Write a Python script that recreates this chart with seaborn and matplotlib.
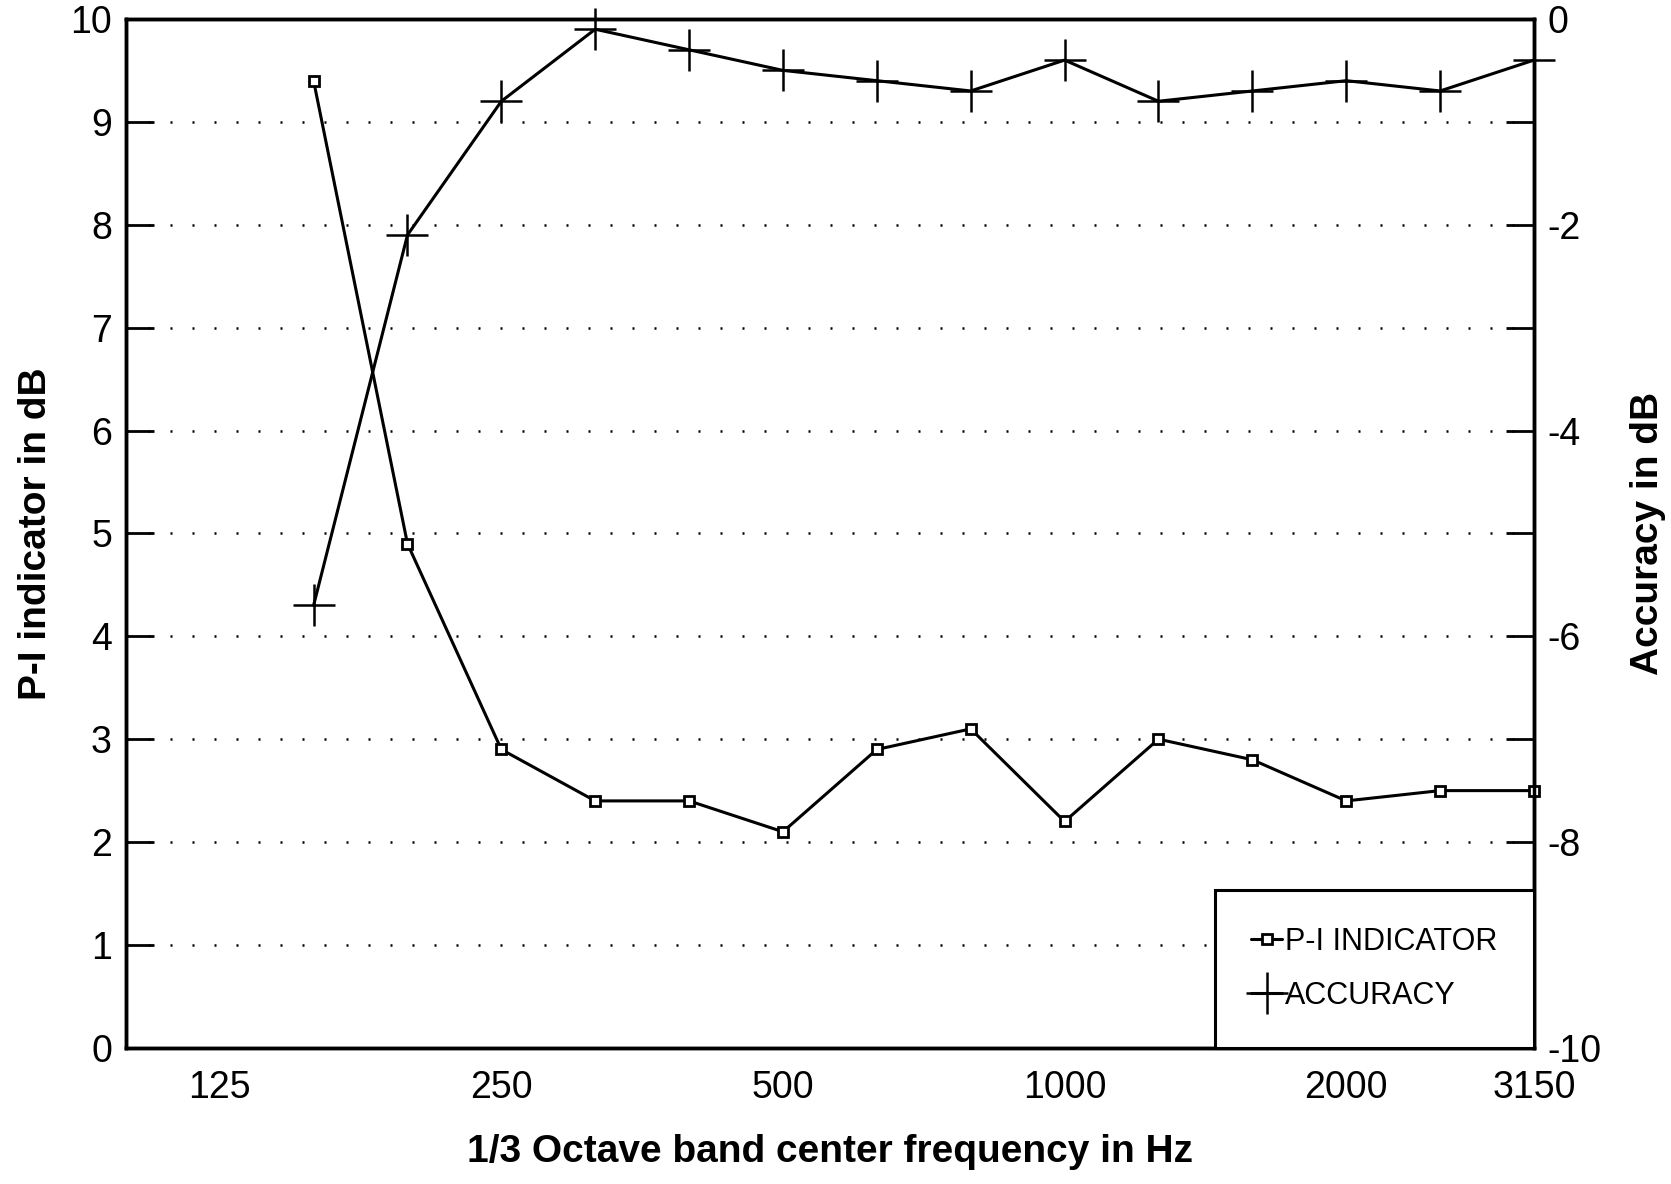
import numpy as np
import pandas as pd
import matplotlib
matplotlib.use("Agg")
import matplotlib.pyplot as plt
import seaborn as sns

bands = [125, 160, 200, 250, 315, 400, 500, 630, 800, 1000, 1250, 1600, 2000, 2500, 3150]
tick_labels = ["125", "250", "500", "1000", "2000", "3150"]
freqs = [160, 200, 250, 315, 400, 500, 630, 800, 1000, 1250, 1600, 2000, 2500, 3150]
pi_indicator = [9.4, 4.9, 2.9, 2.4, 2.4, 2.1, 2.9, 3.1, 2.2, 3.0, 2.8, 2.4, 2.5, 2.5]
accuracy = [-5.7, -2.1, -0.8, -0.1, -0.3, -0.5, -0.6, -0.7, -0.4, -0.8, -0.7, -0.6, -0.7, -0.4]

sns.set_style("white")
plt.rcParams["font.family"] = ["Liberation Sans", "DejaVu Sans"]
plt.rcParams["text.color"] = "black"
plt.rcParams["axes.labelcolor"] = "black"
plt.rcParams["xtick.color"] = "black"
plt.rcParams["ytick.color"] = "black"

df = pd.DataFrame({
    "pos": [bands.index(f) for f in freqs],
    "pi": pi_indicator,
    "acc": accuracy,
})

fig = plt.figure(figsize=(16.71, 11.84), dpi=100)
ax = fig.add_axes([0.0753, 0.115, 0.8427, 0.869])
ax2 = ax.twinx()

sns.lineplot(data=df, x="pos", y="pi", ax=ax, color="black", lw=2.2,
             marker="s", markersize=7, markerfacecolor="white",
             markeredgecolor="black", markeredgewidth=2, label="P-I INDICATOR",
             legend=False, clip_on=False, zorder=5)
sns.lineplot(data=df, x="pos", y="acc", ax=ax2, color="black", lw=2.2,
             marker="+", markersize=30, markeredgewidth=1.8, markeredgecolor="black",
             markerfacecolor="black", label="ACCURACY", legend=False, clip_on=False, zorder=5)

ax.set_xlim(-1, 14)
ax.set_ylim(0, 10)
ax2.set_ylim(-10, 0)

ax.set_yticks(range(0, 11))
ax2.set_yticks(range(-10, 1))
ax2.set_yticklabels([str(v) if v % 2 == 0 else "" for v in range(-10, 1)])
ax.set_xticks(range(0, 15))
ax.set_xticklabels([str(b) if str(b) in tick_labels else "" for b in bands])

for y in range(1, 10):
    ax.axhline(y, color="black", lw=1.8, linestyle=(0, (0.8, 8)), zorder=0)

ax.tick_params(axis="y", direction="in", length=20, width=2, labelsize=27, pad=10)
ax.tick_params(axis="x", direction="in", length=18, width=2, labelsize=27, pad=16)
ax2.tick_params(axis="y", direction="in", length=20, width=2, labelsize=27, pad=10)

for a in (ax, ax2):
    for s in a.spines.values():
        s.set_color("black")
        s.set_linewidth(2.5)

ax.set_xlabel("1/3 Octave band center frequency in Hz", fontsize=28, fontweight="bold", labelpad=20)
ax.set_ylabel("P-I indicator in dB", fontsize=28, fontweight="bold", labelpad=12)
ax2.set_ylabel("Accuracy in dB", fontsize=28, fontweight="bold", labelpad=20)

h1, l1 = ax.get_legend_handles_labels()
h2, l2 = ax2.get_legend_handles_labels()
leg = ax2.legend(h1 + h2, l1 + l2, loc="lower right", borderaxespad=0, fontsize=22,
                 frameon=True, fancybox=False, edgecolor="black", handlelength=1.0,
                 handletextpad=0.1, borderpad=1.2, labelspacing=0.8)
leg.get_frame().set_linewidth(2.2)
leg.get_frame().set_alpha(1)
leg.set_zorder(10)

fig.savefig("out.png", dpi=100)
